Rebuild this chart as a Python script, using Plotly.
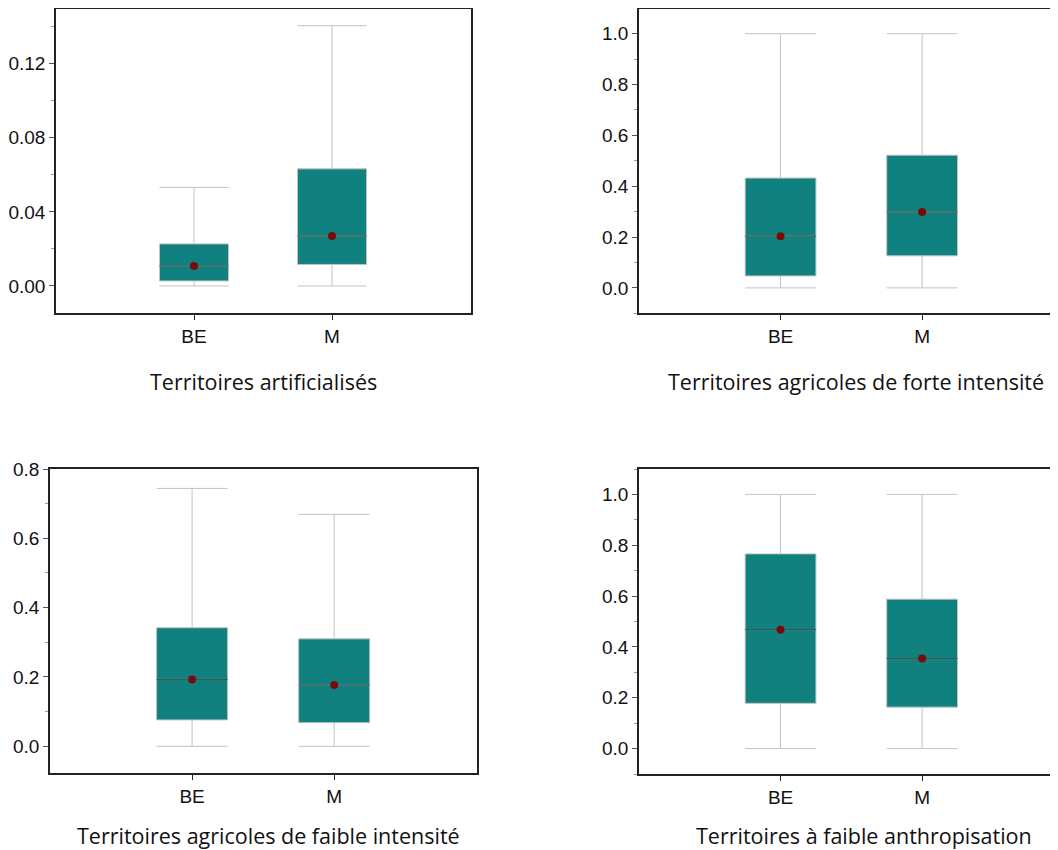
import plotly.graph_objects as go

categories = ["BE", "M"]
positions = [0, 1]

titles = [
    "Territoires artificialisés",
    "Territoires agricoles de forte intensité",
    "Territoires agricoles de faible intensité",
    "Territoires à faible anthropisation",
]

# per-panel statistics [BE, M]
lower_fence = [[0.0, 0.0], [0.0, 0.0], [0.0, 0.0], [0.0, 0.0]]
q1 = [[0.0027, 0.0116], [0.047, 0.126], [0.076, 0.068], [0.178, 0.163]]
median = [[0.0108, 0.027], [0.2035, 0.298], [0.193, 0.177], [0.468, 0.354]]
q3 = [[0.0227, 0.0632], [0.432, 0.522], [0.342, 0.310], [0.766, 0.588]]
upper_fence = [[0.0532, 0.1405], [1.0, 1.0], [0.744, 0.669], [1.0, 1.0]]

y_ranges = [[-0.0146, 0.1495], [-0.1, 1.097], [-0.078, 0.8], [-0.1, 1.1]]
y_dticks = [0.04, 0.2, 0.2, 0.2]
y_formats = [".2f", ".1f", ".1f", ".1f"]
x_ranges = [[-1, 2.007], [-1, 1.96], [-1, 2.003], [-1, 1.96]]

# page body has an 8px margin; work in screen pixels and shift
OFF = 8
W, H = 1058 - OFF, 850 - OFF
# screen pixel boxes: left, right, top, bottom
px = [(56, 471, 9, 313), (639, 1058, 9, 313.3), (50, 476.7, 469, 773.3), (639, 1058, 469, 774)]

BOX_W = 0.5
TEAL = "#118180"
WHISK = "#c2c2c2"
MED = "#2e4848"
DOT = "#7a0a0a"
AXC = "#222222"
TICKC = "#555555"
TXT = "#111111"

fig = go.Figure()
layout_axes = {}
for i in range(4):
    n = "" if i == 0 else str(i + 1)
    xa, ya = "x" + n, "y" + n
    fig.add_trace(go.Box(
        x=positions, q1=q1[i], median=median[i], q3=q3[i],
        lowerfence=lower_fence[i], upperfence=upper_fence[i],
        width=BOX_W, whiskerwidth=1, fillcolor=TEAL,
        line=dict(color=WHISK, width=1), boxpoints=False,
        hoverinfo="skip", showlegend=False, xaxis=xa, yaxis=ya,
    ))
    mx, my = [], []
    for p, m in zip(positions, median[i]):
        mx += [p - BOX_W / 2, p + BOX_W / 2, None]
        my += [m, m, None]
    fig.add_trace(go.Scatter(x=mx, y=my, mode="lines", line=dict(color=MED, width=1),
                             showlegend=False, hoverinfo="skip", xaxis=xa, yaxis=ya))
    fig.add_trace(go.Scatter(x=positions, y=median[i], mode="markers",
                             marker=dict(color=DOT, size=8), showlegend=False,
                             hoverinfo="skip", xaxis=xa, yaxis=ya))
    l, r, t, b = px[i]
    l, r, t, b = l - OFF, min(r - OFF, W), t - OFF, b - OFF
    right_panel = i in (1, 3)
    layout_axes["xaxis" + n] = dict(
        domain=[l / W, r / W], range=x_ranges[i], anchor=ya, automargin=False,
        tickvals=positions, ticktext=categories, ticks="outside", ticklen=5,
        tickcolor=AXC, showline=True, linecolor=AXC, linewidth=1.5, mirror=True,
        showgrid=False, zeroline=False,
        tickfont=dict(family="Liberation Sans, Arial", size=19, color=TXT),
    )
    layout_axes["yaxis" + n] = dict(
        domain=[1 - b / H, 1 - t / H], range=y_ranges[i], anchor=xa, automargin=False,
        dtick=y_dticks[i], tick0=0, tickformat=y_formats[i], ticks="outside", ticklen=5,
        tickcolor=TICKC, showline=True, linecolor=AXC, linewidth=1.5,
        mirror=(not right_panel), showgrid=False, zeroline=False,
        minor=dict(dtick=y_dticks[i] / 2, ticks="outside", ticklen=3, tickcolor="#999999"),
        tickfont=dict(family="Liberation Sans, Arial", size=19, color=TXT),
    )

title_pos = [(263, 381.5), (856, 381.5), (268, 835), (864, 835)]
annotations = []
for txt, (cx, cy) in zip(titles, title_pos):
    annotations.append(dict(text=txt, x=(cx - OFF) / W, y=1 - (cy - OFF) / H,
                            xref="paper", yref="paper",
                            showarrow=False, xanchor="center", yanchor="middle",
                            font=dict(family="Open Sans", size=21.5, color=TXT)))

fig.update_layout(width=W, height=H, margin=dict(l=0, r=0, t=0, b=0),
                  plot_bgcolor="white", paper_bgcolor="white",
                  annotations=annotations, **layout_axes)
fig.write_html("out.html")
